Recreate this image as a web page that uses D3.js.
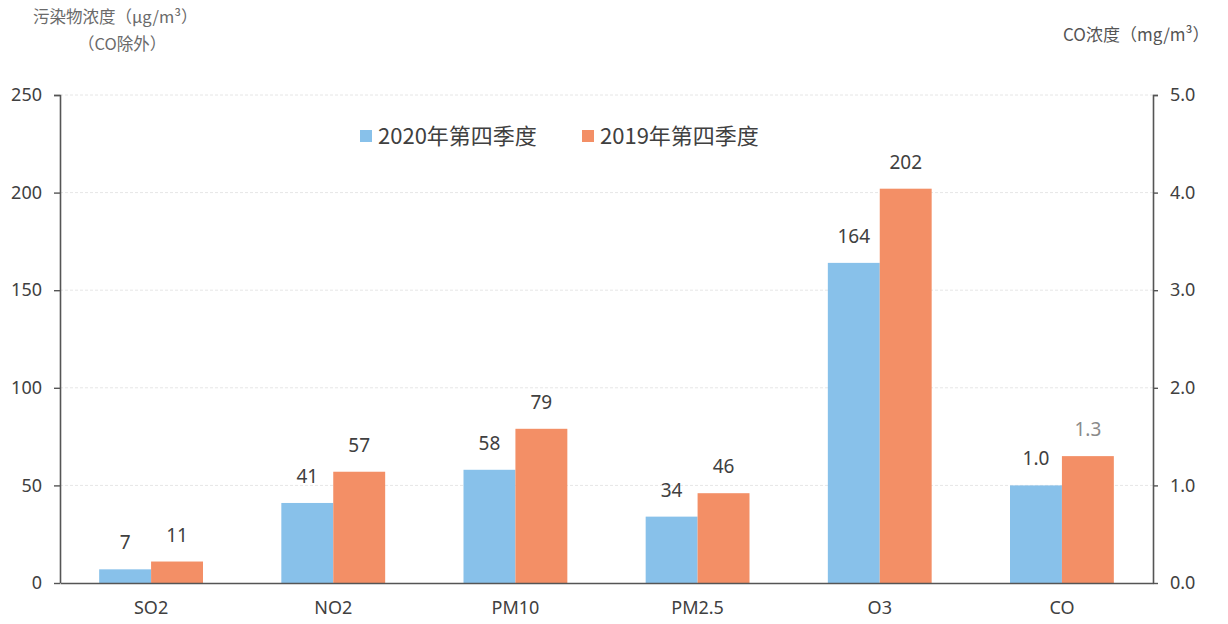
<!DOCTYPE html>
<meta charset="utf-8">
<html>
<head>
<style>
  body { margin: 0; background: #fff; font-family: "Noto Sans", "Noto Sans CJK SC", sans-serif; }
  svg text { fill: #404040; }
</style>
</head>
<body>
<div id="chart"></div>
<script src="https://d3js.org/d3.v7.min.js"></script>
<script>
// categories and series
var categories = ["SO2", "NO2", "PM10", "PM2.5", "O3", "CO"]
var seriesNames = ["2020年第四季度", "2019年第四季度"]
var values2020 = [7, 41, 58, 34, 164, 1.0]
var values2019 = [11, 57, 79, 46, 202, 1.3]
var leftTicks = [0, 50, 100, 150, 200, 250]
var rightTicks = [0, 1, 2, 3, 4, 5]

var colors = ["#88c1ea", "#f38f66"]

var W = 1228, H = 624
var margin = {top: 95, right: 75, bottom: 41, left: 60},
    width = W - margin.left - margin.right,
    height = H - margin.top - margin.bottom

var svg = d3.select("#chart").append("svg")
    .attr("width", W).attr("height", H)
var g = svg.append("g")
    .attr("transform", "translate(" + margin.left + "," + margin.top + ")")

var x0 = d3.scaleBand().domain(categories).range([0, width])
    .paddingInner(0.43).paddingOuter(0.215)
var x1 = d3.scaleBand().domain([0, 1]).range([0, x0.bandwidth()])
var y = d3.scaleLinear().domain([0, 250]).range([height, 0])
var yR = d3.scaleLinear().domain([0, 5]).range([height, 0])

// faint gridlines
g.selectAll(".grid").data(leftTicks.slice(1)).enter().append("line")
    .attr("x1", 0).attr("x2", width)
    .attr("y1", function(d) { return y(d) }).attr("y2", function(d) { return y(d) })
    .style("stroke", "#e6e6e6").style("stroke-dasharray", "3,2")

// build rows, CO on the right axis
var rows = categories.map(function(c, i) {
  var sc = c === "CO" ? yR : y
  return [values2020[i], values2019[i]].map(function(v, k) {
    return {cat: c, k: k, v: v, sc: sc, label: c === "CO" ? d3.format(".1f")(v) : v}
  })
})

var groups = g.selectAll(".grp").data(rows).enter().append("g")
    .attr("transform", function(d) { return "translate(" + x0(d[0].cat) + ",0)" })

groups.selectAll("rect").data(function(d) { return d }).enter().append("rect")
    .attr("x", function(d) { return x1(d.k) })
    .attr("width", x1.bandwidth())
    .attr("y", function(d) { return d.sc(d.v) })
    .attr("height", function(d) { return height - d.sc(d.v) })
    .style("fill", function(d) { return colors[d.k] })

groups.selectAll(".lbl").data(function(d) { return d }).enter().append("text")
    .attr("x", function(d) { return x1(d.k) + x1.bandwidth() / 2 })
    .attr("y", function(d) { return d.sc(d.v) - 20 })
    .attr("text-anchor", "middle")
    .style("font-size", "19px")
    .style("fill", function(d) { return d.cat === "CO" && d.k === 1 ? "#8a8a8a" : "#404040" })
    .text(function(d) { return d.label })

// axes
var axisColor = "#555"
var left = g.append("g").call(d3.axisLeft(y).tickValues(leftTicks).tickSize(6).tickPadding(12))
var right = g.append("g").attr("transform", "translate(" + width + ",0)")
    .call(d3.axisRight(yR).tickValues(rightTicks).tickSize(5).tickPadding(12).tickFormat(d3.format(".1f")))
var bottom = g.append("g").attr("transform", "translate(0," + height + ")")
    .call(d3.axisBottom(x0).tickSize(0).tickPadding(18))

;[left, right, bottom].forEach(function(a) {
  a.select(".domain").style("stroke", axisColor).style("stroke-width", 1.6)
  a.selectAll(".tick line").style("stroke", axisColor).style("stroke-width", 1.4)
  a.selectAll("text").style("font-size", "18px").style("fill", "#404040")
    .style("font-family", "'Noto Sans', sans-serif")
})
left.select(".domain").attr("d", "M-6,0.5H0.5V" + height)
right.select(".domain").attr("d", "M5,0.5H0.5V" + height)

// legend
var legend = svg.append("g").attr("transform", "translate(360,136)")
seriesNames.forEach(function(name, i) {
  var lg = legend.append("g").attr("transform", "translate(" + (i * 222) + ",0)")
  lg.append("rect").attr("x", 0).attr("y", -6).attr("width", 12).attr("height", 12)
    .style("fill", colors[i])
  lg.append("text").attr("x", 18).attr("y", 8)
    .style("font-size", "22px").style("font-family", "'Noto Sans CJK SC', sans-serif")
    .text(name)
})

// axis titles
svg.append("text").attr("x", 33).attr("y", 23)
    .style("font-size", "16.5px").style("fill", "#6a6a6a")
    .style("font-family", "'Noto Sans CJK SC', sans-serif")
    .text("污染物浓度（μg/m³）")
svg.append("text").attr("x", 78).attr("y", 50)
    .style("font-size", "16.5px").style("fill", "#6a6a6a")
    .style("font-family", "'Noto Sans CJK SC', sans-serif")
    .text("（CO除外）")
svg.append("text").attr("x", 1063).attr("y", 41)
    .style("font-size", "17px").style("fill", "#555")
    .style("font-family", "'Noto Sans CJK SC', sans-serif")
    .text("CO浓度（mg/m³）")
</script>
</body>
</html>
